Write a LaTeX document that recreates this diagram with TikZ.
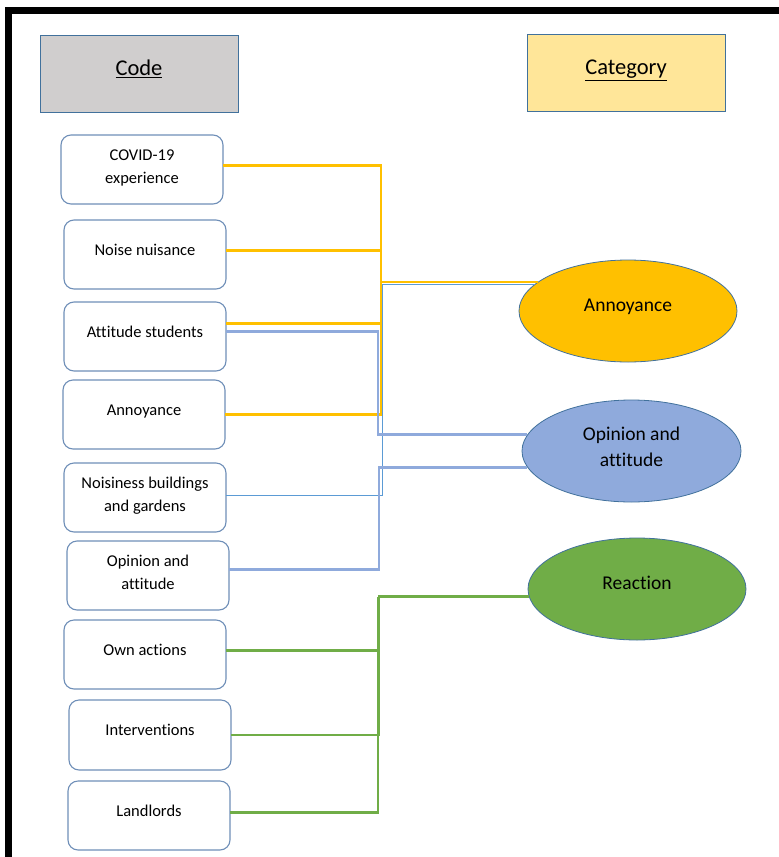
\documentclass[tikz,border=0pt]{standalone}
\usepackage{fontspec}
\setmainfont{Carlito}[Ligatures=NoCommon]
\usetikzlibrary{shapes.geometric,positioning}
\definecolor{CodeGray}{HTML}{D0CECE}
\definecolor{CatYellow}{HTML}{FFE699}
\definecolor{EdgeBlue}{HTML}{41719C}
\definecolor{BoxBlue}{HTML}{6F8FB8}
\definecolor{AnnGold}{HTML}{FFC000}
\definecolor{OpinBlue}{HTML}{8FAADC}
\definecolor{ReactGreen}{HTML}{70AD47}
\definecolor{ThinBlue}{HTML}{5B9BD5}
\tikzset{
  header/.style={rectangle,draw=EdgeBlue,line width=0.9pt,minimum width=198pt,minimum height=77pt,text height=17pt,text depth=12.5pt,font=\fontsize{22.5}{26}\selectfont},
  codebox/.style={rectangle,rounded corners=10pt,draw=BoxBlue,fill=white,line width=1.1pt,outer sep=0pt,minimum width=162pt,minimum height=69pt,align=center,font=\fontsize{16.5}{23}\selectfont},
  oneline/.style={text height=12pt,text depth=11pt},
  twoline/.style={text height=35pt,text depth=8pt},
  catnode/.style={ellipse,draw=EdgeBlue,line width=0.8pt,minimum width=218pt,minimum height=102pt,inner sep=0pt,align=center,font=\fontsize{19.5}{26}\selectfont},
  catone/.style={text height=14pt,text depth=14pt},
  yline/.style={line width=2.2pt,color=AnnGold},
  bline/.style={line width=2.2pt,color=OpinBlue},
  bthin/.style={line width=1pt,color=ThinBlue},
  gline/.style={line width=2.2pt,color=ReactGreen},
}

\begin{document}
\begin{tikzpicture}[x=1pt,y=-1pt]
  \useasboundingbox (0,0) rectangle (779,857);
  % Frame
  \fill[black] (5,7) rectangle (779,14);
  \fill[black] (5,7) rectangle (12,857);

  % Headers
  \node[header,fill=CodeGray] (codehd) at (139,73.5) {\underline{Code}};
  \node[header,fill=CatYellow] (cathd) at (626,72.5) {\underline{Category}};

  % Column 1: Codes
  \node[codebox,twoline] (covid) at (142,169.5) {COVID-19\\experience};
  \node[codebox,oneline,below=16pt of covid,xshift=3pt] (noise) {Noise nuisance};
  \node[codebox,oneline,below=13pt of noise] (attstud) {Attitude students};
  \node[codebox,oneline,below=9pt of attstud,xshift=-1pt] (annc) {Annoyance};
  \node[codebox,twoline,below=14pt of annc,xshift=1pt] (noisy) {Noisiness buildings\\and gardens};
  \node[codebox,twoline,below=9pt of noisy,xshift=3pt] (opinc) {Opinion and\\attitude};
  \node[codebox,oneline,below=10pt of opinc,xshift=-3pt] (own) {Own actions};
  \node[codebox,oneline,below=11pt of own,xshift=5pt,minimum height=70pt] (interv) {Interventions};
  \node[codebox,oneline,below=11pt of interv,xshift=-1pt] (landl) {Landlords};

  % Column 2: Categories
  \node[catnode,catone,fill=AnnGold] (annoy) at (628,311) {Annoyance};
  \node[catnode,fill=OpinBlue,minimum width=219pt,text height=40pt,text depth=10pt] (opin) at (631.5,451) {Opinion and\\attitude};
  \node[catnode,catone,fill=ReactGreen] (react) at (637,589) {Reaction};

  % Bus columns
  \coordinate (ycol) at (381,0);
  \coordinate (bcol) at (378,0);
  \coordinate (bcol2) at (379,0);
  \coordinate (tcol) at (382,0);
  \coordinate (gcol) at (379,0);
  \coordinate (gcol2) at (378,0);

  % Lines to Annoyance
  \draw[yline] ([yshift=4pt]covid.east) -| (ycol |- annoy.162) -- (annoy.162);
  \draw[yline] ([yshift=4pt]noise.east) -| (ycol |- annoy.162);
  \draw[yline] ([yshift=13pt]attstud.east) -| (ycol |- annoy.162);
  \draw[yline] (annc.east) -| (ycol |- annoy.162);
  \draw[bthin] ([yshift=2pt]noisy.east) -| (tcol |- annoy.164) -- (annoy.164);

  % Lines to Opinion and attitude
  \draw[bline] ([yshift=5pt]attstud.east) -| (bcol |- opin.171) -- (opin.171);
  \draw[bline] ([yshift=6pt]opinc.east) -| (bcol2 |- opin.189) -- (opin.189);

  % Lines to Reaction
  \draw[gline] ([yshift=4pt]own.east) -| (gcol |- react.184) -- (react.184);
  \draw[gline] (interv.east) -| (gcol |- react.184);
  \draw[gline] ([yshift=3pt]landl.east) -| (gcol2 |- react.184);
\end{tikzpicture}
\end{document}
